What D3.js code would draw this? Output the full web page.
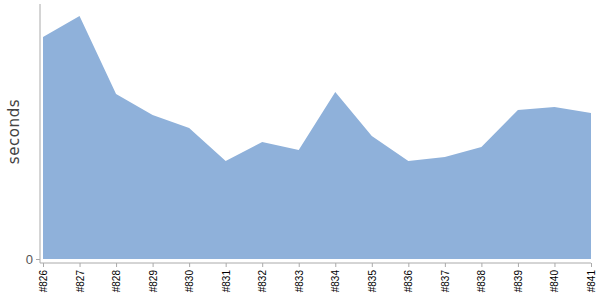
<!DOCTYPE html>
<html>
<head>
<meta charset="utf-8">
<script src="https://cdn.jsdelivr.net/npm/d3@7"></script>
<style>
  body { margin: 0; background: #fff; }
  svg { font-family: "DejaVu Sans", sans-serif; }
</style>
</head>
<body>
<svg id="chart" width="600" height="300"></svg>
<script>
const width = 600
const height = 300

// build numbers on the x axis
const builds = ["#826", "#827", "#828", "#829", "#830", "#831", "#832", "#833",
                "#834", "#835", "#836", "#837", "#838", "#839", "#840", "#841"]
// duration per build, seconds
const seconds = [222, 243, 165, 144, 131, 98, 117, 109, 167, 123, 98, 102, 112, 149, 152, 146]
const yTicks = [0]

const margin = {top: 4, left: 40, right: 9, bottom: 37}
const axisGap = 4

const svg = d3.select("#chart")

const x = d3.scalePoint()
    .domain(builds)
    .range([margin.left + 3, width - margin.right])

const y = d3.scaleLinear()
    .domain([0, 255])
    .range([height - margin.bottom - axisGap, margin.top])

const area = d3.area()
    .x((d, i) => x(builds[i]))
    .y0(y(0))
    .y1(d => y(d))

svg.append("path")
    .datum(seconds)
    .attr("fill", "#8fb1da")
    .attr("d", area)

// y axis
const yAxis = svg.append("g")
    .attr("transform", `translate(${margin.left},0)`)
    .call(d3.axisLeft(y).tickValues(yTicks).tickSize(4).tickSizeOuter(0))
yAxis.select(".domain").remove()
yAxis.append("line")
    .attr("y1", margin.top)
    .attr("y2", y(0) + axisGap)
    .attr("stroke", "#aaa")
yAxis.selectAll(".tick line").attr("stroke", "#aaa")
yAxis.selectAll(".tick text")
    .attr("fill", "#555")
    .attr("font-size", 13)
    .attr("x", -7)

// x axis
const xAxis = svg.append("g")
    .attr("transform", `translate(0,${y(0) + axisGap})`)
    .call(d3.axisBottom(x).tickSize(4).tickSizeOuter(0))
xAxis.select(".domain").remove()
xAxis.append("line")
    .attr("x1", margin.left)
    .attr("x2", x(builds[builds.length - 1]))
    .attr("stroke", "#aaa")
xAxis.selectAll(".tick line").attr("stroke", "#aaa")
xAxis.selectAll(".tick text")
    .attr("fill", "#000")
    .attr("font-size", 10)
    .attr("transform", "rotate(-90)")
    .attr("text-anchor", "end")
    .attr("x", -7)
    .attr("y", 0)
    .attr("dy", "0.35em")

svg.append("text")
    .attr("transform", `translate(19,${(margin.top + y(0)) / 2}) rotate(-90)`)
    .attr("text-anchor", "middle")
    .attr("font-size", 15)
    .attr("letter-spacing", 0.6)
    .attr("fill", "#444")
    .text("seconds")
</script>
</body>
</html>
